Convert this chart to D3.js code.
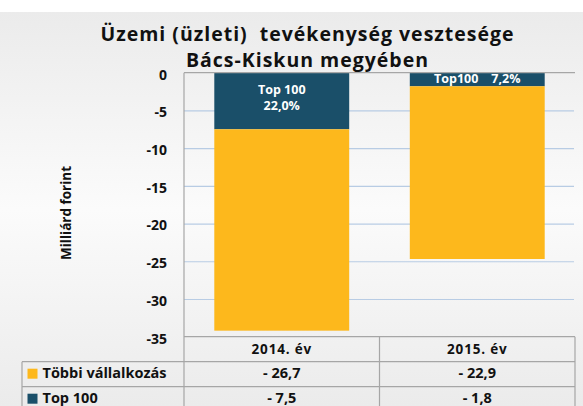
<!DOCTYPE html>
<html lang="hu">
<head>
  <meta charset="UTF-8">
  <title>Üzemi (üzleti) tevékenység vesztesége</title>
  <script src="https://cdn.jsdelivr.net/npm/d3@7"></script>
  <style>
    body { margin: 0; background: #fff; }
    svg text { font-family: "Open Sans", Lato, sans-serif; font-weight: 700; white-space: pre; }
  </style>
</head>
<body>
  <svg id="chart"></svg>
  <script>
    // adatok
    const categories = ['2014. év', '2015. év'];
    const seriesNames = ['Többi vállalkozás', 'Top 100'];
    const tobbi = [-26.7, -22.9];
    const top100 = [-7.5, -1.8];
    const top100Share = ['22,0%', '7,2%'];
    const yTicks = [0, -5, -10, -15, -20, -25, -30, -35];
    const titleLines = ['Üzemi (üzleti)  tevékenység vesztesége', 'Bács-Kiskun megyében'];

    const width = 583, height = 406;
    const gold = '#fdb81c', teal = '#1a4f69';
    const plotLeft = 184, plotRight = 575, plotTop = 72.7, plotBottom = 336.7;
    const rowH = 25;

    const svg = d3.select('#chart').attr('width', width).attr('height', height);

    // háttér
    const defs = svg.append('defs');
    const grad = defs.append('linearGradient').attr('id', 'bg')
      .attr('x1', 0).attr('y1', 0).attr('x2', 0).attr('y2', 1);
    grad.append('stop').attr('offset', '0%').attr('stop-color', '#ebebeb');
    grad.append('stop').attr('offset', '50%').attr('stop-color', '#fbfbfb');
    grad.append('stop').attr('offset', '100%').attr('stop-color', '#ebebeb');
    svg.append('rect').attr('x', 0).attr('y', 12).attr('width', width).attr('height', height - 12)
      .attr('fill', 'url(#bg)');

    const y = d3.scaleLinear().domain([-35, 0]).range([plotBottom, plotTop]);
    const x = d3.scaleBand().domain(categories).range([plotLeft, plotRight])
      .paddingInner(0.31).paddingOuter(0.155);
    const col = d3.scaleBand().domain(categories).range([plotLeft, plotRight]);

    // rácsvonalak
    svg.append('g')
      .attr('transform', `translate(${plotLeft},0)`)
      .call(d3.axisRight(y).tickValues(yTicks.filter(d => d !== 0 && d !== -35)).tickSize(plotRight - plotLeft - 1).tickFormat(''))
      .call(g => g.select('.domain').remove())
      .call(g => g.selectAll('line').attr('stroke', '#b8cce4').attr('stroke-width', 1.2));

    // oszlopok
    const rows = categories.map((c, i) => ({ cat: c, top100: top100[i], tobbi: tobbi[i] }));
    const stack = d3.stack().keys(['top100', 'tobbi']).offset(d3.stackOffsetDiverging);
    const layers = stack(rows);
    const colors = { top100: teal, tobbi: gold };

    svg.append('g').selectAll('g')
      .data(layers)
      .join('g')
      .attr('fill', d => colors[d.key])
      .selectAll('rect')
      .data(d => d)
      .join('rect')
      .attr('x', d => x(d.data.cat))
      .attr('width', x.bandwidth())
      .attr('y', d => y(d[1]))
      .attr('height', d => y(d[0]) - y(d[1]));

    // oszlopcímkék
    const cx = i => x(categories[i]) + x.bandwidth() / 2;
    const labelG = svg.append('g').attr('fill', '#fff').attr('text-anchor', 'middle').attr('font-size', 12.5);
    labelG.append('text').attr('x', cx(0)).attr('y', y(0) + 21.6).text('Top 100');
    labelG.append('text').attr('x', cx(0)).attr('y', y(0) + 37.6).text(top100Share[0]);
    labelG.append('text').attr('x', cx(1)).attr('y', y(0) + 10.6).text('Top100    ' + top100Share[1]);

    // y tengely
    svg.append('g')
      .attr('transform', `translate(${plotLeft},0)`)
      .call(d3.axisLeft(y).tickValues(yTicks).tickSize(0).tickPadding(17).tickFormat(d => d3.format('d')(d).replace('−', '-')))
      .call(g => g.select('.domain').remove())
      .call(g => g.selectAll('text').attr('font-size', 14).attr('fill', '#111').attr('dy', '0.45em'));

    svg.append('text')
      .attr('transform', `translate(71,213) rotate(-90)`)
      .attr('text-anchor', 'middle')
      .attr('font-size', 13.5)
      .attr('fill', '#111')
      .text('Milliárd forint');

    // cím
    const titleWidths = [413, 242];
    svg.append('g').attr('text-anchor', 'middle').attr('font-size', 19.5).attr('fill', '#111')
      .selectAll('text')
      .data(titleLines)
      .join('text')
      .attr('x', 307)
      .attr('y', (d, i) => 40.7 + i * 26)
      .attr('textLength', (d, i) => titleWidths[i])
      .attr('lengthAdjust', 'spacing')
      .text(d => d);

    // adattábla
    const lineColor = '#a6a6a6';
    const tableLeft = 22;
    const lines = svg.append('g').attr('stroke', lineColor).attr('stroke-width', 1.2).attr('fill', 'none');
    lines.append('line').attr('x1', plotLeft).attr('x2', plotRight).attr('y1', plotTop).attr('y2', plotTop);
    lines.append('line').attr('x1', plotLeft).attr('x2', plotRight).attr('y1', plotBottom).attr('y2', plotBottom);
    [1, 2].forEach(r => lines.append('line').attr('x1', tableLeft).attr('x2', plotRight)
      .attr('y1', plotBottom + r * rowH).attr('y2', plotBottom + r * rowH));
    lines.append('line').attr('x1', plotLeft).attr('x2', plotLeft).attr('y1', plotTop).attr('y2', height);
    lines.append('line').attr('x1', tableLeft).attr('x2', tableLeft).attr('y1', plotBottom + rowH).attr('y2', height);
    lines.append('line').attr('x1', col(categories[1])).attr('x2', col(categories[1])).attr('y1', plotBottom).attr('y2', height);
    lines.append('line').attr('x1', plotRight).attr('x2', plotRight).attr('y1', plotBottom).attr('y2', height);

    const tbl = svg.append('g').attr('fill', '#111');
    tbl.selectAll('.hdr')
      .data(categories)
      .join('text')
      .attr('class', 'hdr')
      .attr('text-anchor', 'middle')
      .attr('font-size', 13.5)
      .attr('letter-spacing', 0.8)
      .attr('x', d => col(d) + col.bandwidth() / 2)
      .attr('y', plotBottom + 17.3)
      .text(d => d);

    const tableRows = [
      { name: seriesNames[0], color: gold, values: tobbi },
      { name: seriesNames[1], color: teal, values: top100 }
    ];
    const fmt = v => '- ' + d3.format('.1f')(Math.abs(v)).replace('.', ',');
    tableRows.forEach((r, i) => {
      const yy = plotBottom + (i + 1) * rowH;
      tbl.append('rect').attr('x', 27.5).attr('y', yy + 7).attr('width', 10).attr('height', 10).attr('fill', r.color);
      tbl.append('text').attr('x', 42.5).attr('y', yy + 15.8).attr('font-size', 14.5).text(r.name);
      tbl.selectAll(null)
        .data(categories)
        .join('text')
        .attr('text-anchor', 'middle')
        .attr('font-size', 14.5)
        .attr('x', d => col(d) + col.bandwidth() / 2)
        .attr('y', yy + 15.8)
        .text((d, j) => fmt(r.values[j]));
    });
  </script>
</body>
</html>
